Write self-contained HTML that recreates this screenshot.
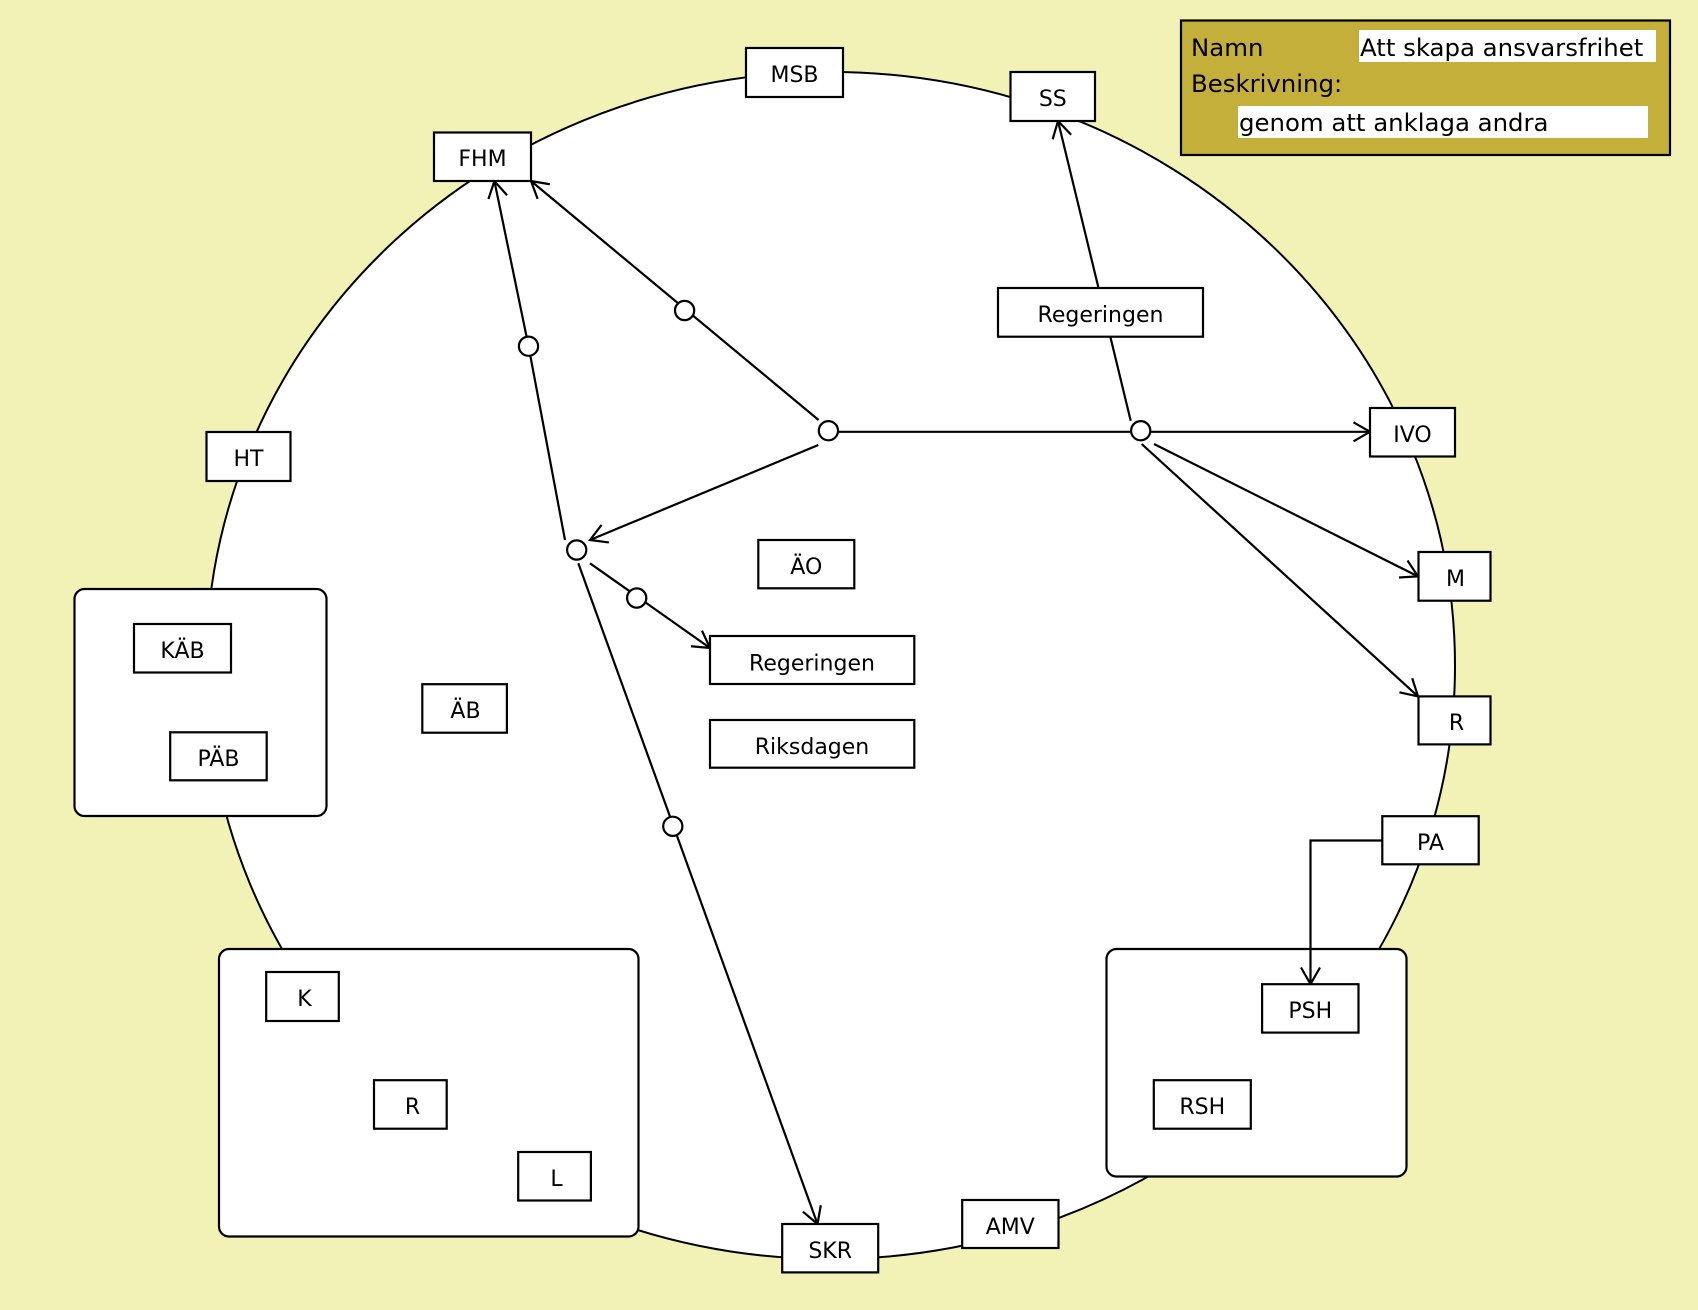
<!DOCTYPE html>
<html>
<head>
<meta charset="utf-8">
<style>
  html,body{margin:0;padding:0;background:#f2f2b6;}
  svg{display:block;}
  text{font-family:"DejaVu Sans","Liberation Sans",sans-serif;fill:#000;}
  .n{font-size:22px;text-anchor:middle;}
  .lg{font-size:24.4px;}
</style>
</head>
<body>
<svg width="1698" height="1310" viewBox="0 0 1698 1310" xmlns="http://www.w3.org/2000/svg">
  <defs>
    <marker id="ar" markerUnits="userSpaceOnUse" markerWidth="40" markerHeight="40" refX="0" refY="0" orient="auto" overflow="visible">
      <path d="M-16.5,-9.5 L0,0 L-16.5,9.5" fill="none" stroke="#000" stroke-width="2.2"/>
    </marker>
  </defs>
  <rect x="0" y="0" width="1698" height="1310" fill="#f2f2b6"/>

  <!-- big ellipse -->
  <ellipse cx="830.6" cy="665.5" rx="624.4" ry="593.5" fill="#fff" stroke="#000" stroke-width="2"/>

  <!-- group boxes -->
  <rect x="74.5" y="589" width="252" height="227" rx="10" ry="10" fill="#fff" stroke="#000" stroke-width="2.2"/>
  <rect x="219" y="949" width="419.5" height="287.5" rx="10" ry="10" fill="#fff" stroke="#000" stroke-width="2.2"/>
  <rect x="1106.5" y="949" width="300" height="227.5" rx="10" ry="10" fill="#fff" stroke="#000" stroke-width="2.2"/>

  <!-- connectors -->
  <g stroke="#000" stroke-width="2.2" fill="none">
    <line x1="818.6" y1="420" x2="531" y2="181" marker-end="url(#ar)"/>
    <polyline points="565,540 528.5,346 494.4,181" marker-end="url(#ar)"/>
    <line x1="818.3" y1="445" x2="590" y2="540" marker-end="url(#ar)"/>
    <line x1="590" y1="563.3" x2="710" y2="648" marker-end="url(#ar)"/>
    <line x1="578.3" y1="563.3" x2="817.5" y2="1224" marker-end="url(#ar)"/>
    <line x1="839" y1="431.8" x2="1130" y2="431.8"/>
    <line x1="1151" y1="431.8" x2="1370" y2="431.8" marker-end="url(#ar)"/>
    <line x1="1154" y1="444" x2="1418" y2="576.4" marker-end="url(#ar)"/>
    <line x1="1141.7" y1="444" x2="1418" y2="696.4" marker-end="url(#ar)"/>
    <line x1="1130.7" y1="420.7" x2="1058" y2="121" marker-end="url(#ar)"/>
    <polyline points="1382,840.5 1310.5,840.5 1310.5,984" marker-end="url(#ar)"/>
  </g>

  <!-- junction / waypoint circles -->
  <g fill="#fff" stroke="#000" stroke-width="2.2">
    <circle cx="828.4" cy="430.7" r="9.6"/>
    <circle cx="1140.7" cy="430.7" r="9.6"/>
    <circle cx="576.7" cy="550" r="9.6"/>
    <circle cx="684.6" cy="310.5" r="9.6"/>
    <circle cx="528.5" cy="346.2" r="9.6"/>
    <circle cx="636.7" cy="598" r="9.6"/>
    <circle cx="672.8" cy="826.3" r="9.6"/>
  </g>

  <!-- node boxes -->
  <g fill="#fff" stroke="#000" stroke-width="2.2">
    <rect x="746" y="48" width="97" height="49"/>
    <rect x="434" y="132.5" width="97" height="48.5"/>
    <rect x="1010.5" y="72" width="84.5" height="49"/>
    <rect x="998" y="288" width="205" height="48.7"/>
    <rect x="206.5" y="432" width="84" height="49"/>
    <rect x="1370" y="408" width="85" height="48.5"/>
    <rect x="1418.5" y="552" width="72" height="48.7"/>
    <rect x="1418.5" y="696.4" width="72" height="48"/>
    <rect x="758.3" y="540" width="96" height="48.3"/>
    <rect x="710" y="636" width="204.3" height="48"/>
    <rect x="710" y="720" width="204.3" height="47.7"/>
    <rect x="422.3" y="684.2" width="84.6" height="48.5"/>
    <rect x="1382.3" y="816.2" width="96.4" height="48.1"/>
    <rect x="134" y="624" width="97" height="48.5"/>
    <rect x="170.2" y="732.3" width="96.5" height="48"/>
    <rect x="266.2" y="972" width="72.6" height="49"/>
    <rect x="374" y="1080.2" width="72.7" height="48.5"/>
    <rect x="518.2" y="1152" width="72.7" height="48.5"/>
    <rect x="782.2" y="1224" width="96" height="48.4"/>
    <rect x="962.2" y="1200" width="96.3" height="48"/>
    <rect x="1262.1" y="984.2" width="96.4" height="48.4"/>
    <rect x="1153.8" y="1080.2" width="97" height="48.5"/>
  </g>

  <!-- node labels -->
  <g>
    <text class="n" x="794.5" y="82">MSB</text>
    <text class="n" x="482.5" y="166">FHM</text>
    <text class="n" x="1052.8" y="106">SS</text>
    <text class="n" x="1100.5" y="322">Regeringen</text>
    <text class="n" x="248.5" y="466">HT</text>
    <text class="n" x="1412.5" y="442">IVO</text>
    <text class="n" x="1455.5" y="586">M</text>
    <text class="n" x="1456.5" y="730">R</text>
    <text class="n" x="806.3" y="574">ÄO</text>
    <text class="n" x="812" y="670.5">Regeringen</text>
    <text class="n" x="812" y="754">Riksdagen</text>
    <text class="n" x="465.5" y="718">ÄB</text>
    <text class="n" x="1430.5" y="850">PA</text>
    <text class="n" x="182.5" y="658">KÄB</text>
    <text class="n" x="218.5" y="766">PÄB</text>
    <text class="n" x="304.5" y="1006">K</text>
    <text class="n" x="412.5" y="1114">R</text>
    <text class="n" x="556.5" y="1186">L</text>
    <text class="n" x="830.2" y="1258">SKR</text>
    <text class="n" x="1010.3" y="1234">AMV</text>
    <text class="n" x="1310.3" y="1018">PSH</text>
    <text class="n" x="1202.3" y="1114">RSH</text>
  </g>

  <!-- legend -->
  <rect x="1181" y="20.5" width="489" height="134.5" fill="#c5af3b" stroke="#000" stroke-width="2.2"/>
  <rect x="1359" y="30" width="297" height="32" fill="#fff"/>
  <rect x="1238" y="106" width="410" height="32" fill="#fff"/>
  <text class="lg" x="1191" y="56">Namn</text>
  <text class="lg" x="1360" y="56">Att skapa ansvarsfrihet</text>
  <text class="lg" x="1191" y="92">Beskrivning:</text>
  <text class="lg" x="1239" y="131">genom att anklaga andra</text>
</svg>
</body>
</html>
